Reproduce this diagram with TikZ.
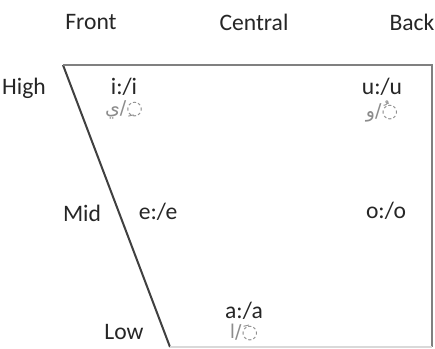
\documentclass[tikz,border=0pt]{standalone}
\usepackage{fontspec}
\setmainfont{Carlito}
\newfontfamily\arabicfont[Script=Arabic]{DejaVu Sans}
\TeXXeTstate=1
\usetikzlibrary{positioning}

\begin{document}
\begin{tikzpicture}[
			x=0.5pt,y=-0.5pt,
			every node/.style={
				inner sep=1pt,
				font=\fontsize{11.8}{13}\selectfont
			},
			head/.style={text=black!85},
			level/.style={text=black!85},
			vowel/.style={text=black!85},
			script/.style={text=black!45,font=\arabicfont\fontsize{9.5}{11}\selectfont},
			edge/.style={draw=black!75,line width=1pt},
			rim/.style={draw=black!50,line width=1pt}
			]
			
			\useasboundingbox[fill=white] (0,0) rectangle (435,349);
			
			% column heads
			\node[head] (front) at (91,22) {Front};
			\node[head] (central) at (254,22) {Central};
			\node[head] (back) at (412,22) {Back};
			
			% row heads
			\node[level] (high) at (24,88) {High};
			\node[level] (mid) at (82,213) {Mid};
			\node[level] (low) at (124,332) {Low};
			
			% chart corners
			\coordinate (tl) at (63,65);
			\coordinate (tr) at (432,65);
			\coordinate (br) at (432,347);
			\coordinate (bl) at (170,347);
			
			\draw[edge] (tl) -- (bl);
			\draw[rim] (tl) -- (tr) -- (br);
			\draw[draw=black!15,line width=0.8pt] (bl) -- (br);
			
			% vowels
			\node[vowel] (ii) at (124,87) {i:/i};
			\node[script,below=0pt of ii] (iar) {\beginR ◌ِ/ي\endR};
			\node[vowel] (uu) at (382,87) {u:/u};
			\node[script,below=0pt of uu] (uar) {\beginR ◌ُ/و\endR};
			\node[vowel] (ee) at (158,212) {e:/e};
			\node[vowel] (oo) at (386,211) {o:/o};
			\node[vowel] (aa) at (244,311) {a:/a};
			\node[script,below=0pt of aa] (aar) {\beginR ◌َ/ا\endR};
			
		\end{tikzpicture}
\end{document}
